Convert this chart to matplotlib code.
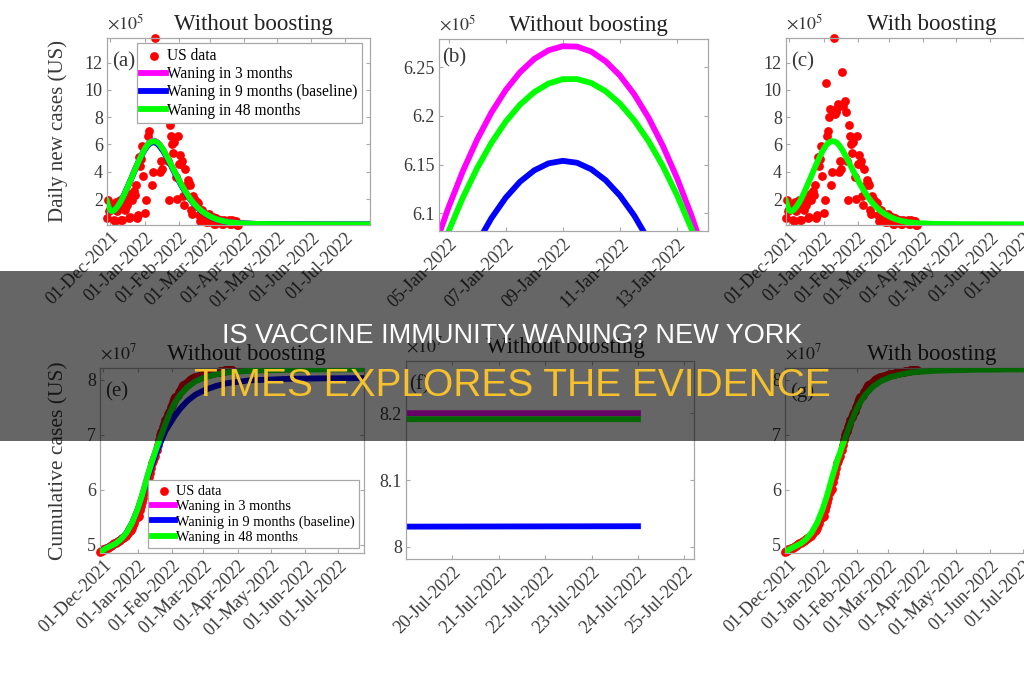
import numpy as np
import pandas as pd
import matplotlib
matplotlib.use('Agg')
import matplotlib.pyplot as plt
import matplotlib.dates as mdates
from matplotlib.patches import Rectangle
from matplotlib.ticker import FuncFormatter

plt.rcParams['font.family'] = ['Liberation Serif', 'DejaVu Serif']
plt.rcParams['mathtext.fontset'] = 'stix'

start = pd.Timestamp('2021-11-28')

# US daily new cases (x1e5), one value per day from 28-Nov-2021
daily_cases = [
    0.6, 1.9, 1.1, 1.3, 1.6, 1.5, 0.5,
    0.4, 1.8, 1.1, 1.3, 1.4, 1.9, 0.5,
    0.5, 1.9, 1.2, 1.5, 1.6, 2.0, 0.6,
    0.7, 2.4, 1.9, 2.6, 2.3, 3.0, 0.6,
    0.8, 5.1, 4.4, 4.9, 5.9, 3.7, 1.0,
    1.9, 10.5, 6.6, 7.0, 8.0, 8.6, 3.0,
    4.0, 13.8, 8.2, 8.4, 8.7, 9.0, 4.0,
    4.8, 4.2, 11.3, 8.8, 9.2, 8.4, 4.8,
    1.9, 7.4, 6.6, 6.0, 5.4, 6.2, 3.6,
    2.0, 6.6, 4.6, 5.2, 4.6, 4.8, 2.2,
    1.6, 4.2, 3.0, 3.4, 3.2, 3.0, 1.2,
    0.9, 2.2, 1.9, 1.9, 1.8, 1.7, 0.8,
    0.4, 0.6, 1.2, 0.9, 0.8, 0.9, 0.3,
    0.3, 0.9, 0.6, 0.6, 0.6, 0.7, 0.2,
    0.2, 0.6, 0.4, 0.5, 0.4, 0.5, 0.2,
    0.2, 0.5, 0.3, 0.4, 0.4, 0.5, 0.2,
    0.2, 0.5, 0.3, 0.4, 0.3, 0.4, 0.1,
    0.1,
]
cum_start = 4.855  # cumulative US cases (x1e7) before 28-Nov-2021

# model daily new cases (x1e5), days after 28-Nov-2021
model_days = [0, 1, 2, 3, 4, 5, 7, 10, 13, 16, 19, 22, 25, 28, 31, 34,
              36, 36.5, 37, 37.5, 38, 38.5, 39, 39.5, 40, 40.5, 41, 41.5, 42,
              42.5, 43, 43.5, 44, 44.5, 45, 45.5, 46, 46.5, 47, 47.5, 48,
              51, 54, 57, 60, 63, 66, 69, 72, 75, 78,
              82, 86, 90, 95, 100, 105, 110, 120, 135, 160, 200, 238]
daily_3m = [1.85, 1.55, 1.32, 1.18, 1.12, 1.12, 1.2, 1.5, 1.9, 2.4, 2.95, 3.52, 4.1, 4.66, 5.2, 5.67,
            5.9107, 5.9666, 6.0178, 6.0644, 6.1062, 6.1433, 6.1757, 6.2035, 6.2265, 6.2448, 6.2585, 6.2674, 6.2716,
            6.2712, 6.266, 6.2561, 6.2415, 6.2223, 6.1983, 6.1696, 6.1363, 6.0982, 6.0554, 6.008, 5.9558,
            5.6, 5.15, 4.68, 4.2, 3.72, 3.25, 2.82, 2.42, 2.06, 1.74,
            1.38, 1.1, 0.88, 0.66, 0.5, 0.39, 0.31, 0.23, 0.18, 0.16, 0.15, 0.15]
daily_9m = [1.85, 1.55, 1.32, 1.18, 1.12, 1.12, 1.2, 1.5, 1.9, 2.4, 2.95, 3.5, 4.08, 4.62, 5.15, 5.6,
            5.8195, 5.8727, 5.9212, 5.9652, 6.0046, 6.0394, 6.0695, 6.0951, 6.1161, 6.1325, 6.1442, 6.1514, 6.154,
            6.152, 6.1453, 6.1341, 6.1183, 6.0979, 6.0728, 6.0432, 6.009, 5.9702, 5.9268, 5.8787, 5.8261,
            5.5, 5.06, 4.6, 4.12, 3.65, 3.18, 2.76, 2.37, 2.01, 1.7,
            1.35, 1.08, 0.86, 0.65, 0.49, 0.38, 0.3, 0.22, 0.18, 0.16, 0.15, 0.15]
daily_48m = [1.85, 1.55, 1.32, 1.18, 1.12, 1.12, 1.2, 1.5, 1.9, 2.4, 2.95, 3.52, 4.1, 4.65, 5.18, 5.65,
             5.9003, 5.9521, 5.9996, 6.0427, 6.0816, 6.1162, 6.1464, 6.1724, 6.1941, 6.2115, 6.2245, 6.2333, 6.2378,
             6.2379, 6.2338, 6.2254, 6.2127, 6.1956, 6.1743, 6.1487, 6.1187, 6.0845, 6.046, 6.0032, 5.956,
             5.6, 5.15, 4.68, 4.2, 3.72, 3.25, 2.82, 2.42, 2.06, 1.74,
             1.38, 1.1, 0.88, 0.66, 0.5, 0.39, 0.31, 0.23, 0.18, 0.16, 0.15, 0.15]

# model cumulative cases (x1e7)
cum_days = [0, 5, 10, 14, 19, 24, 29, 34, 38, 43, 47, 51, 55, 59, 63, 67, 72, 79, 86, 95,
            105, 115, 135, 170, 200, 230, 238]
cum_3m = [4.86, 4.93, 4.98, 5.02, 5.10, 5.22, 5.40, 5.65, 5.90, 6.26, 6.52, 6.77, 6.99, 7.21, 7.41, 7.57,
          7.73, 7.88, 7.98, 8.06, 8.11, 8.145, 8.175, 8.192, 8.198, 8.2, 8.2]
cum_9m = [4.86, 4.93, 4.98, 5.02, 5.10, 5.22, 5.40, 5.64, 5.88, 6.22, 6.46, 6.68, 6.88, 7.07, 7.2, 7.33,
          7.47, 7.62, 7.73, 7.82, 7.89, 7.94, 7.99, 8.018, 8.026, 8.03, 8.031]
cum_48m = [4.86, 4.93, 4.98, 5.02, 5.10, 5.22, 5.40, 5.65, 5.90, 6.26, 6.52, 6.76, 6.98, 7.20, 7.40, 7.56,
           7.72, 7.87, 7.97, 8.05, 8.10, 8.135, 8.165, 8.183, 8.189, 8.191, 8.191]

data_dates = pd.date_range(start, periods=len(daily_cases), freq='D')
cum_cases = cum_start + np.cumsum(daily_cases) / 100.0
model_dates = start + pd.to_timedelta(model_days, unit='D')
cum_dates = start + pd.to_timedelta(cum_days, unit='D')
end = model_dates[-1]

RED, MAG, BLUE, GRN = '#ff0000', '#ff00ff', '#0000ff', '#00ff00'
LW = 4.2
MS = 40
SPINE = '#a8a8a8'
TXT = '#383838'

fig = plt.figure(figsize=(10.24, 6.8), dpi=100)
W, H = 1024.0, 680.0


def make_ax(left, top, right, bottom):
    return fig.add_axes([left / W, 1 - bottom / H, (right - left) / W, (bottom - top) / H])


def style(ax, title, tag, offset, tagpos=(0.02, 0.87)):
    for s in ax.spines.values():
        s.set_color(SPINE)
        s.set_linewidth(0.9)
    ax.tick_params(direction='in', length=3, width=0.8, color=SPINE, top=True, right=True,
                   labelcolor=TXT, labelsize=13, pad=3)
    ax.set_title(title, fontsize=16.5, x=0.555, pad=6, color='#222222')
    ax.text(tagpos[0], tagpos[1], tag, transform=ax.transAxes, fontsize=15, color=TXT, va='center')
    ax.text(0.0, 1.025, offset, transform=ax.transAxes, fontsize=13, color=TXT, ha='left', va='bottom')
    ax.yaxis.set_major_formatter(FuncFormatter(lambda v, p: '%g' % round(v, 3)))
    for lab in ax.get_xticklabels():
        lab.set_rotation(45)
        lab.set_ha('right')
        lab.set_rotation_mode('anchor')


def add_legend(ax, loc, anchor, size):
    leg = ax.legend(loc=loc, bbox_to_anchor=anchor, borderaxespad=0, fontsize=size,
                    fancybox=False, edgecolor=SPINE, framealpha=1, labelspacing=0.15,
                    handlelength=1.6, handletextpad=0.05, borderpad=0.3, scatterpoints=1)
    leg.get_frame().set_linewidth(0.9)


month_fmt = mdates.DateFormatter('%d-%b-%Y')

# (a) daily, without boosting
ax = make_ax(107, 38, 370, 225)
ax.scatter(data_dates, daily_cases, s=MS, color=RED, lw=0, clip_on=False, label='US data', zorder=2)
ax.plot(model_dates, daily_3m, color=MAG, lw=LW, label='Waning in 3 months', zorder=3)
ax.plot(model_dates, daily_9m, color=BLUE, lw=LW, label='Waning in 9 months (baseline)', zorder=3)
ax.plot(model_dates, daily_48m, color=GRN, lw=LW, label='Waning in 48 months', zorder=3)
ax.set_xlim(start, end)
ax.set_ylim(min(daily_cases), max(daily_cases))
ax.set_yticks([2, 4, 6, 8, 10, 12])
ax.xaxis.set_major_locator(mdates.MonthLocator(bymonthday=1))
ax.xaxis.set_major_formatter(month_fmt)
ax.set_ylabel('Daily new cases (US)', fontsize=15, color=TXT)
ax.yaxis.set_label_coords(-0.15, 0.5)
style(ax, 'Without boosting', '(a)', r'$\times10^5$')
add_legend(ax, 'upper right', (0.97, 0.973), 11.2)

# (b) zoom on the peak
ax = make_ax(439, 39, 708, 231)
ax.plot(model_dates, daily_3m, color=MAG, lw=LW)
ax.plot(model_dates, daily_9m, color=BLUE, lw=LW)
ax.plot(model_dates, daily_48m, color=GRN, lw=LW)
ax.set_xlim(pd.Timestamp('2022-01-04 16:00'), pd.Timestamp('2022-01-14 02:00'))
ax.set_ylim(6.082, 6.279)
ax.set_yticks([6.1, 6.15, 6.2, 6.25])
ax.xaxis.set_major_locator(mdates.DayLocator(bymonthday=[5, 7, 9, 11, 13]))
ax.xaxis.set_major_formatter(month_fmt)
style(ax, 'Without boosting', '(b)', r'$\times10^5$', tagpos=(0.01, 0.9))

# (c) daily, with boosting
ax = make_ax(786, 38, 1049, 225)
ax.scatter(data_dates, daily_cases, s=MS, color=RED, lw=0, clip_on=False, zorder=2)
ax.plot(model_dates, daily_48m, color=GRN, lw=LW, zorder=3)
ax.set_xlim(start, end)
ax.set_ylim(min(daily_cases), max(daily_cases))
ax.set_yticks([2, 4, 6, 8, 10, 12])
ax.xaxis.set_major_locator(mdates.MonthLocator(bymonthday=1))
ax.xaxis.set_major_formatter(month_fmt)
style(ax, 'With boosting', '(c)', r'$\times10^5$')

# (e) cumulative, without boosting
ax = make_ax(100, 368, 364, 553)
ax.scatter(data_dates, cum_cases, s=MS, color=RED, lw=0, clip_on=False, label='US data', zorder=2)
ax.plot(cum_dates, cum_3m, color=MAG, lw=LW, label='Waning in 3 months', zorder=3)
ax.plot(cum_dates, cum_9m, color=BLUE, lw=LW, label='Waninig in 9 months (baseline)', zorder=3)
ax.plot(cum_dates, cum_48m, color=GRN, lw=LW, label='Waning in 48 months', zorder=3)
ax.set_xlim(start, end)
ax.set_ylim(4.85, 8.215)
ax.set_yticks([5, 6, 7, 8])
ax.xaxis.set_major_locator(mdates.MonthLocator(bymonthday=1))
ax.xaxis.set_major_formatter(month_fmt)
ax.set_ylabel('Cumulative cases (US)', fontsize=15.5, color=TXT)
ax.yaxis.set_label_coords(-0.121, 0.5)
style(ax, 'Without boosting', '(e)', r'$\times10^7$')
add_legend(ax, 'lower right', (0.981, 0.027), 10.3)

# (f) zoom on the end of the simulation
ax = make_ax(406, 361, 694, 559)
ax.plot(cum_dates, cum_3m, color=MAG, lw=LW)
ax.plot(cum_dates, cum_9m, color=BLUE, lw=LW)
ax.plot(cum_dates, cum_48m, color=GRN, lw=LW)
ax.set_xlim(pd.Timestamp('2022-07-19'), pd.Timestamp('2022-07-25 05:00'))
ax.set_ylim(7.982, 8.278)
ax.set_yticks([8, 8.1, 8.2])
ax.set_xticks(pd.date_range('2022-07-20', '2022-07-25', freq='D'))
ax.xaxis.set_major_formatter(month_fmt)
style(ax, 'Without boosting', '(f)', r'$\times10^7$', tagpos=(0.01, 0.88))

# (g) cumulative, with boosting
ax = make_ax(785, 368, 1049, 553)
ax.scatter(data_dates, cum_cases, s=MS, color=RED, lw=0, clip_on=False, zorder=2)
ax.plot(cum_dates, cum_48m, color=GRN, lw=LW, zorder=3)
ax.set_xlim(start, end)
ax.set_ylim(4.85, 8.215)
ax.set_yticks([5, 6, 7, 8])
ax.xaxis.set_major_locator(mdates.MonthLocator(bymonthday=1))
ax.xaxis.set_major_formatter(month_fmt)
style(ax, 'With boosting', '(g)', r'$\times10^7$')

# headline banner
fig.add_artist(Rectangle((0, 1 - 441 / H), 1, 170 / H, transform=fig.transFigure,
                         facecolor='black', alpha=0.6, lw=0, zorder=10))
fig.text(0.5, 1 - 343 / H, 'IS VACCINE IMMUNITY WANING? NEW YORK', ha='center', va='baseline',
         fontsize=19.5, color='white', family=['Liberation Sans', 'DejaVu Sans'], zorder=11)
fig.text(0.5, 1 - 396 / H, 'TIMES EXPLORES THE EVIDENCE', ha='center', va='baseline',
         fontsize=28, color='#f6c12c', family=['Liberation Sans', 'DejaVu Sans'], zorder=11)

fig.savefig('out.png', dpi=100)
